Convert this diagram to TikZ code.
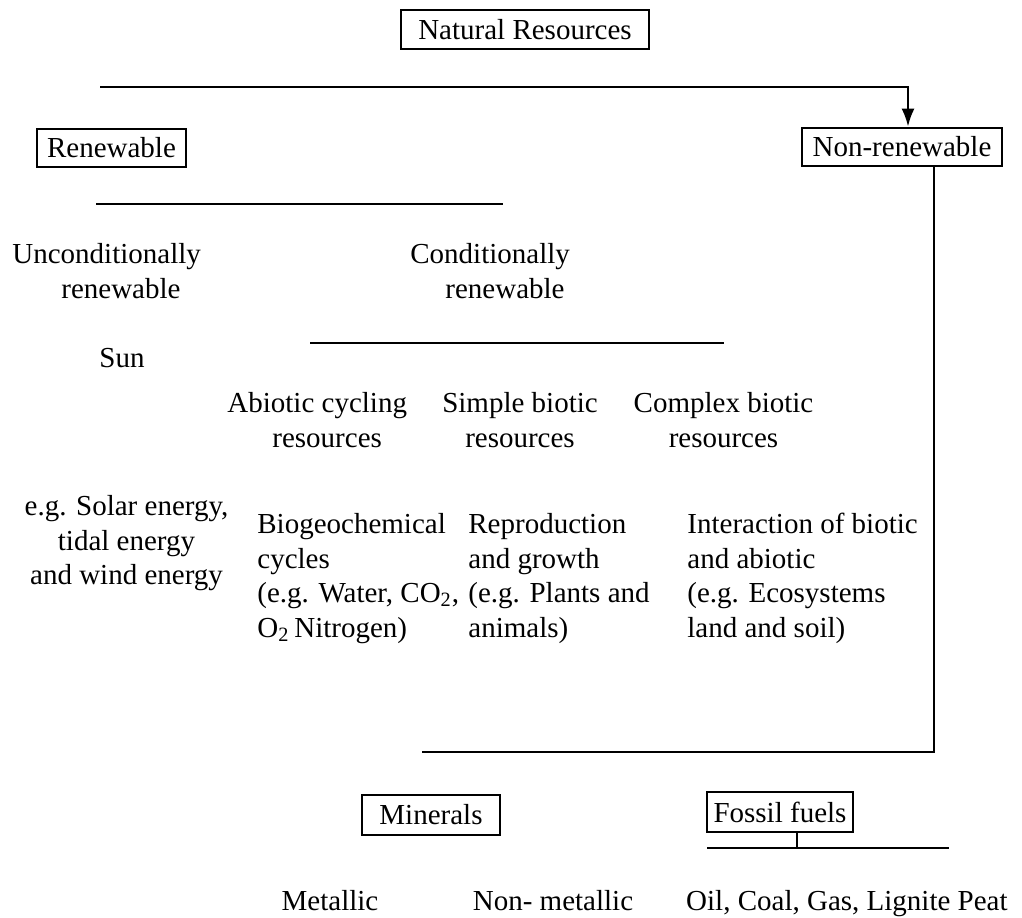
\documentclass[tikz,border=0pt]{standalone}
\usepackage{fontspec}
\setmainfont{Liberation Serif}
\usepackage{tikz}
\usetikzlibrary{positioning,arrows.meta,calc}
\tikzset{box/.style={draw,line width=1.3pt,inner sep=0pt,minimum height=19pt},
         txt/.style={inner sep=0pt,align=center},
         line/.style={line width=1.3pt}
}
\tikzstyle{arrow} = [line width=1.3pt,-{Latex[length=9pt,width=6.5pt]}]

\begin{document}
\begin{tikzpicture}[x=0.5pt,y=-0.5pt,font=\fontsize{14.5}{17.25}\selectfont]
\useasboundingbox (0,0) rectangle (1022,917);

\node[box,minimum width=124pt,minimum height=19.5pt] (natres) at (525,29.5) {Natural Resources};
\node[box,minimum width=74.5pt] (renew) at (111.5,148) {Renewable};
\node[box,minimum width=100pt] (nonrenew) at (902,147) {Non-renewable};
\node[txt,anchor=north west,align=left] (uncond) at (12,243) {Unconditionally\\\hspace*{24.5pt}renewable};
\node[txt,anchor=north west,align=left] (cond) at (410,243) {Conditionally\\\hspace*{17.5pt}renewable};
\node[txt,anchor=north] (sun) at (122,348) {Sun};
\node[txt,anchor=north west,align=left] (abiotic) at (227,392) {Abiotic cycling\\\hspace*{22.5pt}resources};
\node[txt,anchor=north] (simple) at (520,392) {Simple biotic\\resources};
\node[txt,anchor=north] (complex) at (723.5,392) {Complex biotic\\resources};
\node[txt,anchor=north] (solar) at (126.5,495) {e.g. Solar energy,\\tidal energy\\and wind energy};
\node[txt,anchor=north west,align=left] (biogeo) at (257,513) {Biogeochemical\\cycles\\(e.g. Water, CO\textsubscript{2},\\O\textsubscript{2}\,Nitrogen)};
\node[txt,anchor=north west,align=left] (repro) at (468,513) {Reproduction\\and growth\\(e.g. Plants and\\animals)};
\node[txt,anchor=north west,align=left] (interact) at (687,513) {Interaction of biotic\\and abiotic\\(e.g. Ecosystems\\land and soil)};
\node[box,minimum width=69pt,minimum height=20pt] (minerals) at (431,815) {Minerals};
\node[box,minimum width=73pt,minimum height=20pt] (fossil) at (780,812) {Fossil fuels};
\node[txt,anchor=base] (metallic) at (330,910) {Metallic};
\node[txt,anchor=base] (nonmet) at (553,910) {Non- metallic};
\node[txt,anchor=base east] (oil) at (1008,910) {Oil, Coal, Gas, Lignite Peat};

\coordinate (tl) at (100,87);
\coordinate (tr) at (908,87);
\coordinate (rl) at (96,204);
\coordinate (rr) at (503,204);
\coordinate (cl) at (310,343);
\coordinate (cr) at (724,343);
\coordinate (nv) at (934,0);
\coordinate (bl) at (422,752);
\coordinate (fl) at (707,848);
\coordinate (fr) at (949,848);
\coordinate (ft) at (797,0);
\draw[arrow] (tl)--(tr)--(tr |- nonrenew.north);
\draw[line] (rl)--(rr);
\draw[line] (cl)--(cr);
\draw[line] (nonrenew.south -| nv) |- (bl);
\draw[line] (fl)--(fr);
\draw[line] (fossil.south -| ft)--(ft |- fl);

\end{tikzpicture}
\end{document}
